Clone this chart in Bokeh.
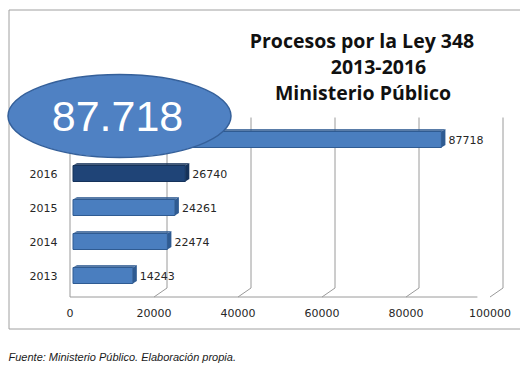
from bokeh.plotting import figure
from bokeh.models import Range1d, ColumnDataSource
from bokeh.core.properties import value
from bokeh.transform import dodge
from bokeh.embed import file_html
from bokeh.resources import INLINE

# ---- data ----
categories = ["2013", "2014", "2015", "2016", "Total"]
procesos = [14243, 22474, 24261, 26740, 87718]
bar_colors = ["#4a7ebf", "#4a7ebf", "#4a7ebf", "#1f4477", "#4a7ebf"]
face_colors = ["#2f5b92", "#2f5b92", "#2f5b92", "#15325a", "#2f5b92"]
x_ticks = [0, 20000, 40000, 60000, 80000, 100000]
tick_labels = ["0", "20000", "40000", "60000", "80000", "100000"]
title_lines = ["Procesos por la Ley 348", "2013-2016", "Ministerio Público"]
callout_text = "87.718"
fuente = "Fuente: Ministerio Público. Elaboración propia."

# ---- geometry (page pixels -> data) ----
W, H = 520, 380
PX_X0 = 69.5            # page x of value 0
PX_PER_UNIT = 420 / 100000
PX_Y0 = 275.0           # page y of first category
PX_PER_CAT = 34.0


def dx(px):
    return (px - PX_X0) / PX_PER_UNIT


def dy(py):
    return (PX_Y0 - py) / PX_PER_CAT


p = figure(width=W, height=H, x_range=Range1d(dx(0), dx(W)),
           y_range=Range1d(dy(H), dy(0)), output_backend="svg",
           toolbar_location=None, min_border=0, outline_line_color=None,
           x_axis_location=None, y_axis_location=None)
p.xgrid.visible = False
p.ygrid.visible = False
p.background_fill_color = "white"
p.border_fill_color = "white"

GRID = "#9a9a9a"

# outer chart border (top, left, bottom; right side cut off)
p.line(x=[dx(540), dx(8.5), dx(8.5), dx(540)],
       y=[dy(9.5), dy(9.5), dy(328.5), dy(328.5)],
       line_color="#a0a0a0", line_width=1)

# 3D-style gridlines
OX = 13 / PX_PER_UNIT
y_top = dy(117)
y_back = dy(287.5)
y_front = dy(296.5)
back_ticks = x_ticks[1:]
p.segment(x0=[t + OX for t in back_ticks], y0=[y_back] * len(back_ticks),
          x1=[t + OX for t in back_ticks], y1=[y_top] * len(back_ticks),
          line_color=GRID, line_width=1)
p.segment(x0=[t + OX for t in back_ticks], y0=[y_back] * len(back_ticks),
          x1=back_ticks, y1=[y_front] * len(back_ticks),
          line_color=GRID, line_width=1)
p.segment(x0=[x_ticks[0]], y0=[y_front], x1=[x_ticks[0]], y1=[y_top],
          line_color=GRID, line_width=1)
p.segment(x0=[x_ticks[0]], y0=[y_front], x1=[x_ticks[-1] - 3000], y1=[y_front],
          line_color=GRID, line_width=1)

# bars
ypos = list(range(len(categories)))
BAR_H = 16 / PX_PER_CAT
DEPTH = 3 / PX_PER_UNIT
FACE_X = 4 / PX_PER_UNIT
FACE_Y = 2.5 / PX_PER_CAT
src = ColumnDataSource(dict(y=ypos, left=[0] * len(procesos), right=procesos,
                            color=bar_colors, face=face_colors,
                            label=[str(v) for v in procesos], cat=categories))

face_xs = [[v + DEPTH, v + DEPTH + FACE_X, v + DEPTH + FACE_X, v + DEPTH] for v in procesos]
face_ys = [[y - BAR_H / 2, y - BAR_H / 2 + FACE_Y, y + BAR_H / 2 + FACE_Y, y + BAR_H / 2] for y in ypos]
top_xs = [[DEPTH, DEPTH + FACE_X, v + DEPTH + FACE_X, v + DEPTH] for v in procesos]
top_ys = [[y + BAR_H / 2, y + BAR_H / 2 + FACE_Y, y + BAR_H / 2 + FACE_Y, y + BAR_H / 2] for y in ypos]
p.patches(xs=top_xs, ys=top_ys, fill_color=face_colors, line_color=None, fill_alpha=0.8)
p.patches(xs=face_xs, ys=face_ys, fill_color=face_colors, line_color=None)
p.hbar(y="y", left=dodge("left", DEPTH), right=dodge("right", DEPTH),
       height=BAR_H, fill_color="color", line_color="face", line_width=1,
       source=src)

# value labels
p.text(x="right", y="y", text="label", source=src, x_offset=10,
       text_align="left", text_baseline="middle",
       text_font=value("DejaVu Sans"), text_font_size="11px", text_color="#262626")

# category labels
p.text(x=[dx(57)] * len(categories), y=ypos, text=categories,
       text_align="right", text_baseline="middle",
       text_font=value("DejaVu Sans"), text_font_size="11px", text_color="#262626")

# x tick labels
p.text(x=x_ticks, y=[dy(312)] * len(x_ticks), text=tick_labels,
       text_align="center", text_baseline="middle",
       text_font=value("DejaVu Sans"), text_font_size="11px", text_color="#262626")

# title
p.text(x=[dx(361.5), dx(378), dx(362.5)], y=[dy(39.5), dy(66), dy(91.5)],
       text=title_lines, text_align="center", text_baseline="alphabetic",
       text_font=value("Open Sans"), text_font_style="bold", text_font_size="19.5px",
       text_color="#111111")

# callout ellipse
p.ellipse(x=[dx(119)], y=[dy(115.5)], width=[223 / PX_PER_UNIT],
          height=[83 / PX_PER_CAT], fill_color="#4f81c3",
          line_color="#35609a", line_width=1.5)
p.text(x=[dx(117)], y=[dy(116)], text=[callout_text], text_align="center",
       text_baseline="middle", text_font=value("Liberation Sans"),
       text_font_size="43px", text_color="white")

# footnote
p.text(x=[dx(8)], y=[dy(356)], text=[fuente], text_align="left",
       text_baseline="middle", text_font=value("Liberation Sans"),
       text_font_style="italic", text_font_size="11px", text_color="#1a1a1a")

open("out.html", "w").write(file_html(p, INLINE))
